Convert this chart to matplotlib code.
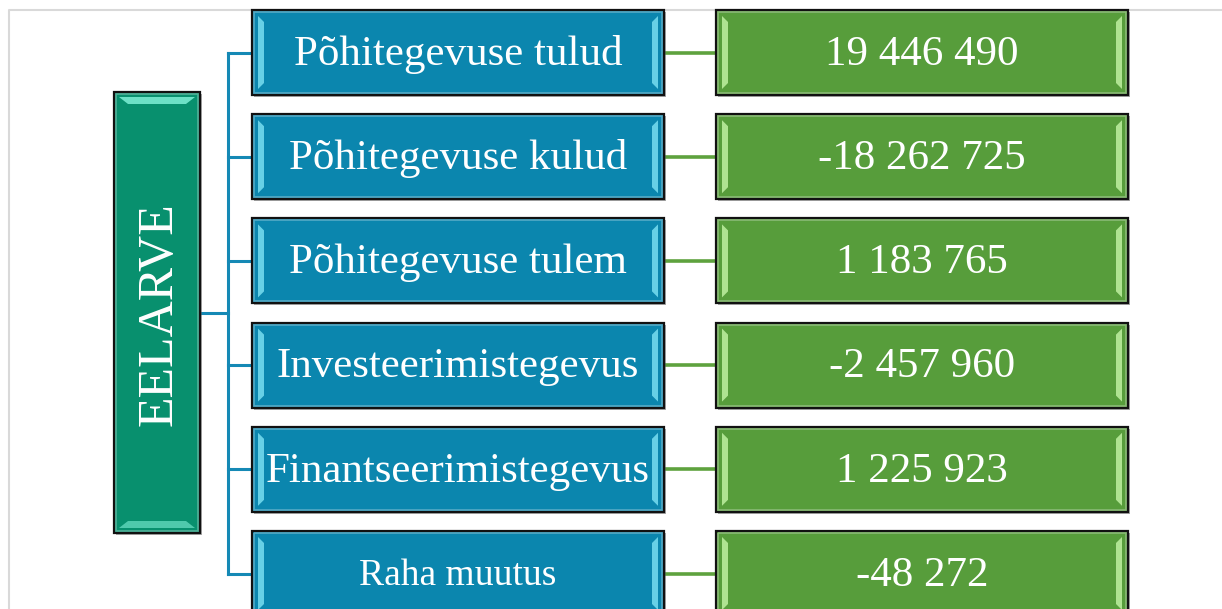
import matplotlib
matplotlib.use("Agg")
import matplotlib.pyplot as plt
from matplotlib.patches import Rectangle, Polygon

labels = ["Põhitegevuse tulud", "Põhitegevuse kulud", "Põhitegevuse tulem",
          "Investeerimistegevus", "Finantseerimistegevus", "Raha muutus"]
values = ["19 446 490", "-18 262 725", "1 183 765",
          "-2 457 960", "1 225 923", "-48 272"]
root = "EELARVE"

blue = "#0B86AE"
blue_light = "#7FE3F5"
green = "#579D3B"
green_light = "#C6F5A8"
teal = "#08906E"
teal_light = "#7FF0D6"
line_blue = "#1589B5"
line_green = "#5EA23E"

plt.rcParams["font.family"] = ["Liberation Serif", "DejaVu Serif"]

fig = plt.figure(figsize=(12.22, 6.09), dpi=100)
ax = fig.add_axes([0, 0, 1, 1])
ax.set_xlim(0, 1222)
ax.set_ylim(609, 0)
ax.axis("off")

# light frame
ax.plot([9, 9, 1222], [609, 9.5, 9.5], color="#d9d9d9", lw=1.5, zorder=0)


def bevel_box(x, y, w, h, fill, light, vertical=False):
    ax.add_patch(Rectangle((x + 2, y + 2), w, h, facecolor="#555555", edgecolor="none", alpha=0.5, zorder=1))
    ax.add_patch(Rectangle((x, y), w, h, facecolor=fill, edgecolor="#111111", lw=1.6, zorder=2))
    b = 9
    if vertical:
        # top and bottom highlights
        ax.add_patch(Polygon([(x + 5, y + 5), (x + w - 5, y + 5), (x + w - b - 5, y + b + 3), (x + b + 5, y + b + 3)],
                             closed=True, facecolor=light, edgecolor="none", alpha=0.85, zorder=3))
        ax.add_patch(Polygon([(x + 5, y + h - 5), (x + w - 5, y + h - 5), (x + w - b - 5, y + h - b - 3), (x + b + 5, y + h - b - 3)],
                             closed=True, facecolor=light, edgecolor="none", alpha=0.6, zorder=3))
    else:
        ax.add_patch(Polygon([(x + 6, y + 6), (x + 12, y + 12), (x + 12, y + h - 12), (x + 6, y + h - 6)],
                             closed=True, facecolor=light, edgecolor="none", alpha=0.8, zorder=3))
        ax.add_patch(Polygon([(x + w - 6, y + 6), (x + w - 12, y + 12), (x + w - 12, y + h - 12), (x + w - 6, y + h - 6)],
                             closed=True, facecolor=light, edgecolor="none", alpha=0.8, zorder=3))
    # soft inner edge
    ax.add_patch(Rectangle((x + 2, y + 2), w - 4, h - 4, facecolor="none", edgecolor="white", lw=1.2, alpha=0.3, zorder=3))


bx, bw, bh = 252, 412, 85
gx, gw = 716, 412
y0, pitch = 10, 104.2
rx, ry, rw, rh = 114, 92, 86, 441
trunk_x = 228

centers = [y0 + i * pitch + bh / 2 for i in range(len(labels))]

# connectors
ax.plot([rx + rw, trunk_x], [ry + rh / 2, ry + rh / 2], color=line_blue, lw=2.2, zorder=1)
ax.plot([trunk_x, trunk_x], [centers[0], centers[-1]], color=line_blue, lw=2.2, zorder=1)
for c in centers:
    ax.plot([trunk_x, bx], [c, c], color=line_blue, lw=2.2, zorder=1)
    ax.plot([bx + bw, gx], [c, c], color=line_green, lw=2.6, zorder=1)

# root box
bevel_box(rx, ry, rw, rh, teal, teal_light, vertical=True)
ax.text(rx + rw / 2 + 2, ry + rh / 2 + 2, root, rotation=90, ha="center", va="center",
        color="white", fontsize=36, zorder=5)

for i, (lab, val) in enumerate(zip(labels, values)):
    y = y0 + i * pitch
    bevel_box(bx, y, bw, bh, blue, blue_light)
    bevel_box(gx, y, gw, bh, green, green_light)
    fs = 27 if lab == "Raha muutus" else 31
    ax.text(bx + bw / 2, y + bh / 2 + 2, lab, ha="center", va="center", color="white", fontsize=fs, zorder=5)
    ax.text(gx + gw / 2, y + bh / 2 + 2, val, ha="center", va="center", color="white", fontsize=31, zorder=5)

fig.savefig("out.png", dpi=100)
